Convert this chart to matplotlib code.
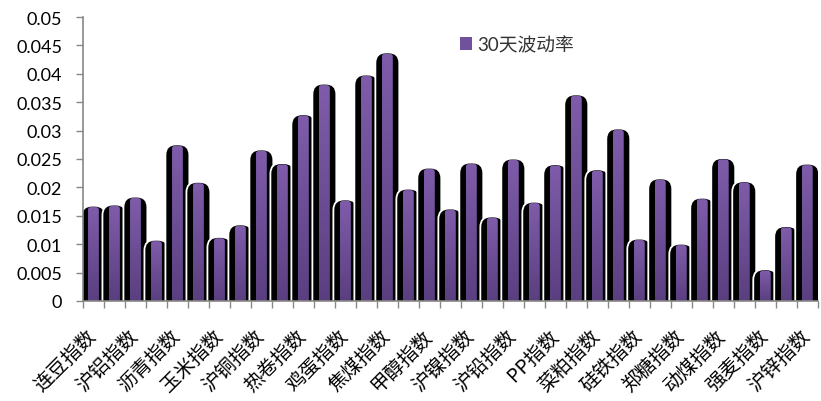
import matplotlib.pyplot as plt
import numpy as np
from matplotlib.patches import FancyBboxPatch, Patch

plt.rcParams['font.family'] = ['Lato', 'Noto Sans CJK SC', 'DejaVu Sans']

# 30-day volatility, 35 indices (only every other name is printed on the axis)
values = [0.0165, 0.0167, 0.0181, 0.0105, 0.0273, 0.0207, 0.0110, 0.0132,
          0.0264, 0.0240, 0.0326, 0.0380, 0.0176, 0.0396, 0.0435, 0.0195,
          0.0232, 0.0160, 0.0241, 0.0146, 0.0248, 0.0172, 0.0238, 0.0361,
          0.0229, 0.0301, 0.0107, 0.0213, 0.0098, 0.0179, 0.0249, 0.0208,
          0.0053, 0.0129, 0.0239]
shown_labels = ['连豆指数', '沪铝指数', '沥青指数', '玉米指数', '沪铜指数', '热卷指数',
                '鸡蛋指数', '焦煤指数', '甲醇指数', '沪镍指数', '沪铅指数', 'PP指数',
                '菜粕指数', '硅铁指数', '郑糖指数', '动煤指数', '强麦指数', '沪锌指数']
series_name = '30天波动率'
yticks = [0, 0.005, 0.01, 0.015, 0.02, 0.025, 0.03, 0.035, 0.04, 0.045, 0.05]

fig = plt.figure(figsize=(8.21, 4.02), dpi=100)
ax = fig.add_axes([0.101, 0.249, 0.895, 0.706])
n = len(values)

# px -> data aspect for rounded tops
x_per_px = n / (0.895 * 821)
y_per_px = 0.05 / (0.706 * 402)
aspect = y_per_px / x_per_px

grad = np.linspace(1, 0, 256).reshape(-1, 1)
cmap = plt.matplotlib.colors.LinearSegmentedColormap.from_list('p', ['#5a3f80', '#7f5caa'])

sw, bw = 1.14, 0.5
for i, v in enumerate(values):
    z = 2 + i * 3
    sh = FancyBboxPatch((i - sw / 2, -0.004), sw, v + 0.004 + 1.5 * y_per_px,
                        boxstyle='round,pad=0,rounding_size=0.5',
                        mutation_aspect=aspect, fc='black', ec='white', lw=1.3, zorder=z)
    ax.add_patch(sh)
    bar = FancyBboxPatch((i - bw / 2, -0.004), bw, v + 0.004,
                         boxstyle='round,pad=0,rounding_size=0.12',
                         mutation_aspect=aspect, fc='#6f519c', ec='none', zorder=z + 1)
    ax.add_patch(bar)
    im = ax.imshow(grad, extent=(i - bw / 2, i + bw / 2, 0, v), cmap=cmap,
                   aspect='auto', zorder=z + 2, origin='upper')
    im.set_clip_path(bar)

ax.set_xlim(-0.5, n - 0.5)
ax.set_ylim(0, 0.05)

ax.set_yticks(yticks)
ax.set_yticklabels([('%g' % t) for t in yticks], fontsize=13)
ax.set_xticks(np.arange(0, n, 2))
ax.set_xticklabels(shown_labels, rotation=45, ha='right', va='center',
                   rotation_mode='anchor', fontsize=14,
                   family=['Noto Sans CJK SC', 'DejaVu Sans'])
ax.set_xticks(np.arange(-0.5, n, 1), minor=True)
ax.tick_params(axis='x', which='major', length=0, pad=23)
ax.tick_params(axis='x', which='minor', length=5, color='#888888', width=1)
ax.tick_params(axis='y', length=5, color='#888888', width=1, pad=10)

for s in ['top', 'right']:
    ax.spines[s].set_visible(False)
for s in ['left', 'bottom']:
    ax.spines[s].set_color('#888888')
    ax.spines[s].set_linewidth(1.2)
    ax.spines[s].set_zorder(200)

leg = ax.legend([Patch(fc='#6f519c')], [series_name], loc='upper left',
                bbox_to_anchor=(0.49, 0.995), frameon=False, fontsize=13.5,
                handlelength=0.65, handleheight=0.65, handletextpad=0.3)
for t in leg.get_texts():
    t.set_family(['Lato', 'Noto Sans CJK SC'])
    t.set_color('#333333')

fig.savefig('out.png', dpi=100)
